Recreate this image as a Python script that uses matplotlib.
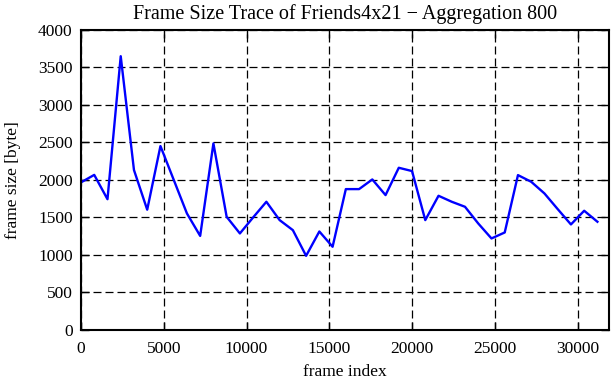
import matplotlib
matplotlib.use("Agg")
import matplotlib.pyplot as plt
import numpy as np

frame_index = list(range(0, 31201, 800))
frame_size = [1965, 2065, 1740, 3650, 2130, 1600, 2450, 2000, 1550, 1250,
              2485, 1505, 1283, 1497, 1706, 1461, 1327, 984, 1309, 1105,
              1875, 1875, 2004, 1795, 2160, 2116, 1461, 1786, 1706, 1639,
              1416, 1216, 1296, 2062, 1973, 1817, 1608, 1403, 1586, 1439]
xticks = [0, 5000, 10000, 15000, 20000, 25000, 30000]
yticks = [0, 500, 1000, 1500, 2000, 2500, 3000, 3500, 4000]

plt.rcParams['font.family'] = ['Liberation Serif', 'DejaVu Serif']
plt.rcParams['font.size'] = 12.5

fig = plt.figure(figsize=(6.11, 3.80), dpi=100)
ax = fig.add_axes([81/611, 1 - 329.5/380, (609-81)/611, (329.5-30)/380])
ax.plot(frame_index, frame_size, color='#0000ff', lw=1.7)
ax.set_xlim(0, 31900)
ax.set_ylim(0, 4000)
ax.set_xticks(xticks)
ax.set_yticks(yticks)
ax.grid(True, color='black', linestyle=(0, (6.4, 3.2)), lw=0.9)
ax.tick_params(direction='in', top=True, right=True, length=6, width=1)
ax.tick_params(axis='x', pad=8)
ax.tick_params(axis='y', pad=6)
for s in ax.spines.values():
    s.set_linewidth(1.5)
ax.set_xlabel('frame index', labelpad=5)
ax.set_ylabel('frame size [byte]', labelpad=12)
ax.set_title('Frame Size Trace of Friends4x21 \u2212 Aggregation 800', pad=8, fontsize=14.5)
fig.savefig('out.png', dpi=100)
